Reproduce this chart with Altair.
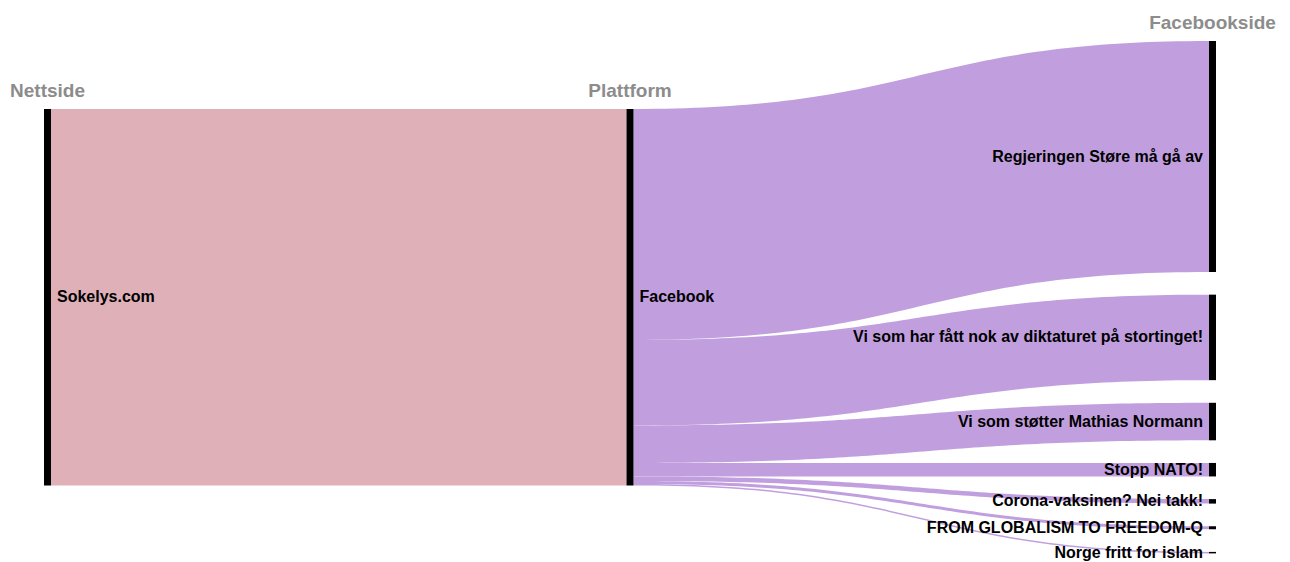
import altair as alt
import numpy as np
import pandas as pd

# ---- data ----
column_titles = ["Nettside", "Plattform", "Facebookside"]
site = "Sokelys.com"
platform = "Facebook"
pages = [
    "Regjeringen Støre må gå av",
    "Vi som har fått nok av diktaturet på stortinget!",
    "Vi som støtter Mathias Normann",
    "Stopp NATO!",
    "Corona-vaksinen? Nei takk!",
    "FROM GLOBALISM TO FREEDOM-Q",
    "Norge fritt for islam",
]
page_counts = [154, 57, 25, 9, 3, 2, 1]

# ---- layout (in value units / column units) ----
W, H = 1274, 553
col_px, left_px = 582.5, 36
top_px, ky = 33, 1.5
node_w = 7 / col_px
pad = 15.1

total = sum(page_counts)
right_extent = total + pad * (len(pages) - 1)
c0 = (right_extent - total) / 2

nodes = [
    dict(name=site, col=0, y0=c0, y1=c0 + total, side="r"),
    dict(name=platform, col=1, y0=c0, y1=c0 + total, side="r"),
]
yy = 0.0
for p, v in zip(pages, page_counts):
    nodes.append(dict(name=p, col=2, y0=yy, y1=yy + v, side="l"))
    yy += v + pad
nodes = pd.DataFrame(nodes)
nodes["x2"] = nodes["col"] + node_w
nodes["ym"] = (nodes["y0"] + nodes["y1"]) / 2

links = [dict(id="l0", group=site, c=0, sy0=c0, sy1=c0 + total, ty0=c0, ty1=c0 + total)]
off = c0
for i, (p, v) in enumerate(zip(pages, page_counts)):
    n = nodes[nodes.name == p].iloc[0]
    links.append(dict(id=f"l{i+1}", group=platform, c=1, sy0=off, sy1=off + v, ty0=n.y0, ty1=n.y1))
    off += v

rows = []
ts = np.linspace(0, 1, 80)
for L in links:
    xa, xb = L["c"] + node_w, L["c"] + 1
    for t in ts:
        xt = xa + (xb - xa) * (1.5 * t * (1 - t) + t ** 3)
        f = 3 * t ** 2 - 2 * t ** 3
        rows.append(dict(id=L["id"], group=L["group"], x=xt,
                         top=L["sy0"] + (L["ty0"] - L["sy0"]) * f,
                         bot=L["sy1"] + (L["ty1"] - L["sy1"]) * f))
linkdf = pd.DataFrame(rows)

heads = pd.DataFrame(dict(
    title=column_titles,
    x=[c + node_w / 2 for c in range(3)],
    y=[c0 - 12, c0 - 12, -12],
))

xs = alt.Scale(domain=[-left_px / col_px, (W - left_px) / col_px], nice=False, zero=False)
ys = alt.Scale(domain=[-top_px / ky, (H - top_px) / ky], nice=False, zero=False, reverse=True)

link_layer = alt.Chart(linkdf).mark_area(opacity=1).encode(
    x=alt.X("x:Q", scale=xs, axis=None),
    y=alt.Y("top:Q", scale=ys, axis=None, stack=None),
    y2=alt.Y2("bot:Q"),
    detail="id:N",
    color=alt.Color("group:N", scale=alt.Scale(domain=[site, platform], range=["#dfb0b8", "#c19fdf"]), legend=None),
)

node_layer = alt.Chart(nodes).mark_rect(color="black").encode(
    x=alt.X("col:Q", scale=xs, axis=None), x2="x2:Q",
    y=alt.Y("y0:Q", scale=ys, axis=None), y2="y1:Q",
)

font = "Liberation Sans"
lab_r = alt.Chart(nodes[nodes.side == "r"]).mark_text(
    align="left", baseline="middle", dx=6, font=font, fontWeight="bold", fontSize=16, color="black"
).encode(x=alt.X("x2:Q", scale=xs, axis=None), y=alt.Y("ym:Q", scale=ys, axis=None), text="name:N")
lab_l = alt.Chart(nodes[nodes.side == "l"]).mark_text(
    align="right", baseline="middle", dx=-6, font=font, fontWeight="bold", fontSize=16, color="black"
).encode(x=alt.X("col:Q", scale=xs, axis=None), y=alt.Y("ym:Q", scale=ys, axis=None), text="name:N")

head_layer = alt.Chart(heads).mark_text(
    align="center", baseline="middle", font=font, fontWeight="bold", fontSize=19, color="#8c8c8c"
).encode(x=alt.X("x:Q", scale=xs, axis=None), y=alt.Y("y:Q", scale=ys, axis=None), text="title:N")

chart = alt.layer(link_layer, node_layer, lab_r, lab_l, head_layer).properties(
    width=W, height=H, padding=0,
    autosize=alt.AutoSizeParams(type="none"),
).configure_view(stroke=None)

chart.save("out.html", embed_options={"renderer": "svg", "actions": False})
